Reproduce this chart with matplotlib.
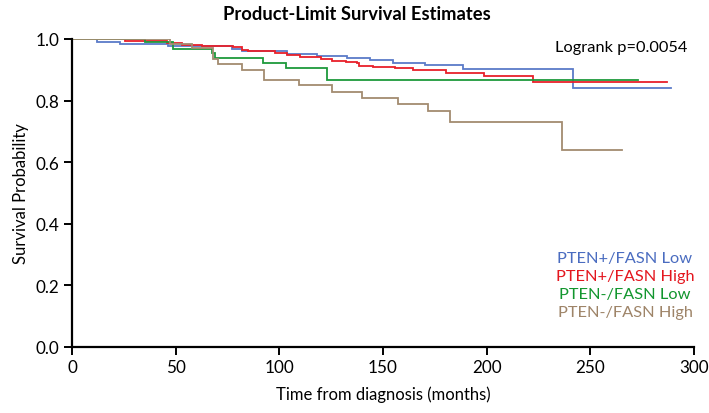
import matplotlib
matplotlib.use("Agg")
import matplotlib.pyplot as plt

# ---- data ----
blue_t = [0, 12.2, 23.3, 46.3, 77.0, 81.8, 103.5, 118.0, 132.8, 143.8, 154.7, 170.2, 188.8, 241.4, 288.8]
blue_s = [1.0, 0.990, 0.983, 0.978, 0.968, 0.960, 0.952, 0.946, 0.938, 0.931, 0.922, 0.915, 0.902, 0.841, 0.841]

red_t = [0, 25.6, 45.7, 52.9, 62.5, 77.5, 81.8, 85.0, 98.0, 103.5, 110.0, 120.0, 125.2, 132.2, 137.3,
         138.6, 145.4, 155.8, 164.7, 180.2, 198.7, 222.5, 287.2]
red_s = [1.0, 0.994, 0.986, 0.982, 0.978, 0.973, 0.964, 0.960, 0.953, 0.947, 0.940, 0.935, 0.930, 0.926,
         0.921, 0.913, 0.910, 0.905, 0.898, 0.889, 0.879, 0.859, 0.859]

green_t = [0, 35.0, 48.9, 67.4, 69.0, 92.0, 103.2, 122.8, 272.9]
green_s = [1.0, 0.990, 0.968, 0.955, 0.938, 0.921, 0.905, 0.867, 0.867]

brown_t = [0, 47.3, 58.0, 68.0, 70.5, 81.8, 92.7, 109.6, 125.3, 139.7, 157.4, 171.6, 182.3, 236.4, 265.3]
brown_s = [1.0, 0.984, 0.971, 0.935, 0.919, 0.900, 0.868, 0.852, 0.829, 0.807, 0.788, 0.765, 0.730, 0.641, 0.641]

labels = ["PTEN+/FASN Low", "PTEN+/FASN High", "PTEN-/FASN Low", "PTEN-/FASN High"]
colors = ["#5B7BC8", "#E8202A", "#1E9A3C", "#A38B70"]
text_colors = ["#4A6CC0", "#E4161E", "#12962E", "#9E8468"]

x_ticks = [0, 50, 100, 150, 200, 250, 300]
y_ticks = [0.0, 0.2, 0.4, 0.6, 0.8, 1.0]

plt.rcParams['font.family'] = ['Lato', 'DejaVu Sans']

fig = plt.figure(figsize=(7.09, 4.14), dpi=100)
ax = fig.add_axes([72/709, 1-348/414, (694-72)/709, (348-40)/414])

series = [(blue_t, blue_s), (red_t, red_s), (green_t, green_s), (brown_t, brown_s)]
for (t, s), c in zip(series, colors):
    ax.step(t, s, where='post', color=c, lw=1.3, solid_joinstyle='miter')

ax.set_xlim(0, 300)
ax.set_ylim(0, 1.0)
ax.set_xticks(x_ticks)
ax.set_yticks(y_ticks)
ax.set_xticklabels([str(v) for v in x_ticks])
ax.set_yticklabels([f"{v:.1f}" for v in y_ticks])
for sp in ['top', 'right']:
    ax.spines[sp].set_visible(False)
for sp in ['left', 'bottom']:
    ax.spines[sp].set_linewidth(1.6)
    ax.spines[sp].set_color('black')
ax.tick_params(axis='both', direction='out', length=6, width=1.4, labelsize=12.3, colors='black', pad=3)
ax.spines['left'].set_clip_on(False)
ax.spines['bottom'].set_clip_on(False)

ax.set_xlabel("Time from diagnosis (months)", fontsize=12, labelpad=7)
ax.set_ylabel("Survival Probability", fontsize=12, labelpad=5)

fig.text(357/709, 1-15/414, "Product-Limit Survival Estimates", ha='center', va='center',
         fontsize=13.2, fontweight='bold')

fig.text(621/709, 1-48/414, "Logrank p=0.0054", ha='center', va='center', fontsize=11.8)

ys = [259, 277, 295, 313]
for lab, c, y in zip(labels, text_colors, ys):
    fig.text(625/709, 1-y/414, lab, ha='center', va='center', fontsize=11.8, color=c)

fig.savefig("out.png", dpi=100)
